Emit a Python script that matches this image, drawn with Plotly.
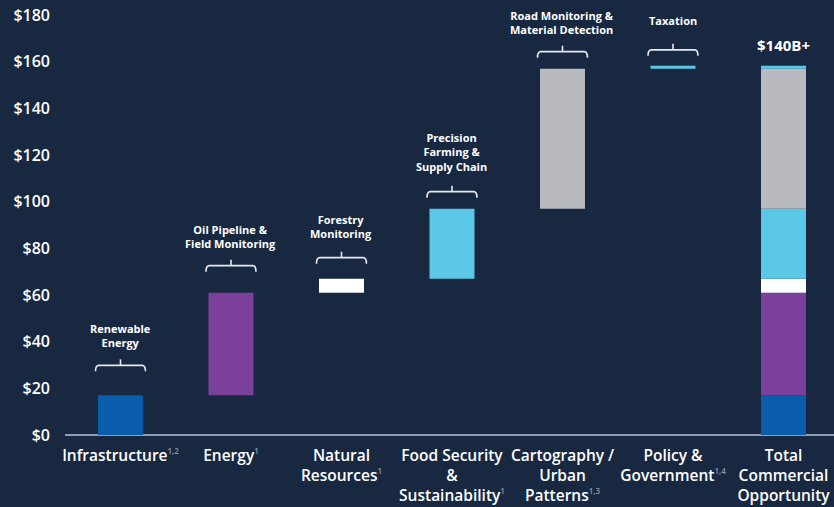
import plotly.graph_objects as go

# Segment values ($B) for each sector, in waterfall order
categories = [
    "Infrastructure", "Energy", "Natural Resources", "Food Security & Sustainability",
    "Cartography / Urban Patterns", "Policy & Government",
]
SUP = '<sup><span style="font-size:8px;color:#8d99ab">{}</span></sup>'
tick_labels = [
    "Infrastructure" + SUP.format("1,2"),
    "Energy" + SUP.format("1"),
    "Natural<br>Resources" + SUP.format("1"),
    "Food Security<br>&<br>Sustainability" + SUP.format("1"),
    "Cartography /<br>Urban<br>Patterns" + SUP.format("1,3"),
    "Policy &<br>Government" + SUP.format("1,4"),
    "Total<br>Commercial<br>Opportunity",
]
values = [17, 44, 6, 30, 60, 1.2]
use_cases = [
    "Renewable<br>Energy",
    "Oil Pipeline &<br>Field Monitoring",
    "Forestry<br>Monitoring",
    "Precision<br>Farming &<br>Supply Chain",
    "Road Monitoring &<br>Material Detection",
    "Taxation",
]
colors = ["#0a5cad", "#7b3f9c", "#ffffff", "#5bc8e8", "#b9b9c0", "#5bc8e8"]
total_label = "$140B+"
y_ticks = [0, 20, 40, 60, 80, 100, 120, 140, 160, 180]

# pixel gaps between each bar top and its bracket tips / caption
bracket_gap = [24, 21, 15, 11, 11, 10]
caption_gap = [43, 40, 36, 33, 30, 36]

BG = "#172840"
FONT = "Open Sans"
BAR_W = 0.407

# running bases for the floating bars
bases = []
run = 0
for v in values:
    bases.append(run)
    run += v
total_idx = len(values)

fig = go.Figure()
for i, (v, b, c) in enumerate(zip(values, bases, colors)):
    fig.add_trace(go.Bar(x=[i], y=[v], base=[b], width=BAR_W, marker_color=c,
                         marker_line_width=0, showlegend=False, hoverinfo="skip"))
    # same segment stacked into the total column
    fig.add_trace(go.Bar(x=[total_idx], y=[v], base=[b], width=BAR_W, marker_color=c,
                         marker_line_width=0, showlegend=False, hoverinfo="skip"))

shapes = []
annotations = []
half = 0.226
for i, (v, b, txt, g, cg) in enumerate(zip(values, bases, use_cases, bracket_gap, caption_gap)):
    top = b + v
    line_y = g + 6
    nib_y = g + 12
    path = (f"M {i-half},{g} Q {i-half},{line_y} {i-half+0.03},{line_y} L {i},{line_y} "
            f"L {i},{nib_y} M {i},{line_y} "
            f"L {i+half-0.03},{line_y} Q {i+half},{line_y} {i+half},{g}")
    shapes.append(dict(type="path", xref="x", yref="y", ysizemode="pixel", yanchor=top,
                       path=path, line=dict(color="#e6e8ec", width=1.6)))
    annotations.append(dict(x=i, y=top, xref="x", yref="y", text=txt, showarrow=False,
                            yanchor="bottom", yshift=cg,
                            font=dict(family=FONT, size=11, color="#ffffff", weight=700)))

annotations.append(dict(x=total_idx, y=sum(values), xref="x", yref="y", text=total_label,
                        showarrow=False, yanchor="bottom", yshift=9,
                        font=dict(family=FONT, size=15, color="#ffffff", weight=700)))

fig.update_layout(
    width=834, height=507,
    margin=dict(l=65, r=0, t=15, b=72),
    paper_bgcolor=BG, plot_bgcolor=BG,
    barmode="overlay",
    shapes=shapes, annotations=annotations,
    font=dict(family=FONT, color="#ffffff"),
    xaxis=dict(
        range=[-0.502, 6.457], tickvals=list(range(len(tick_labels))), ticktext=tick_labels,
        showgrid=False, zeroline=False, showline=False, ticks="", ticklabelstandoff=9,
        tickfont=dict(family=FONT, size=15.5, color="#ffffff", weight=600),
    ),
    yaxis=dict(
        range=[0, 180], tickvals=y_ticks, ticktext=[f"${t}" for t in y_ticks],
        showgrid=False, zeroline=True, zerolinecolor="#8f9db3", zerolinewidth=2,
        showline=False, ticks="", ticklabelstandoff=14,
        tickfont=dict(family=FONT, size=16, color="#ffffff", weight=600),
    ),
)

fig.write_html("out.html")
